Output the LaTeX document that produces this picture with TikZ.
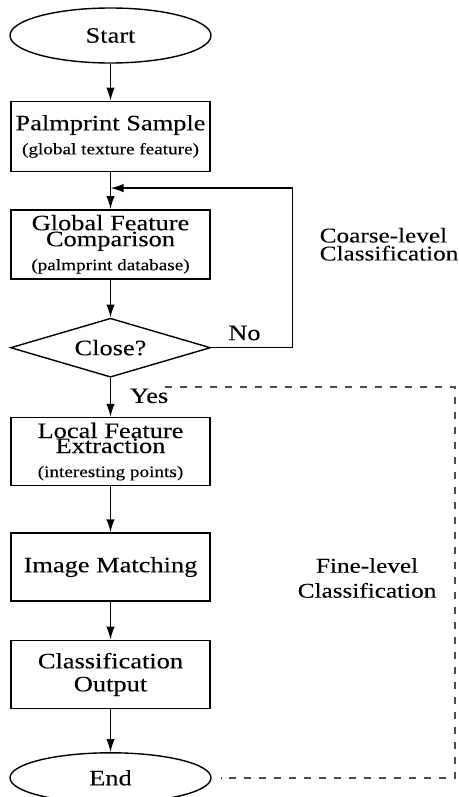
\documentclass[tikz,border=0pt]{standalone}
\usepackage{fontspec}
\setmainfont{Liberation Serif}[FakeStretch=1.2,FakeBold=0.12]
\usetikzlibrary{shapes.geometric,arrows.meta,positioning}

\newcommand{\subnote}[1]{{\fontsize{8}{9}\selectfont #1}}

\tikzset{
  terminal/.style={draw, ellipse, line width=0.7pt, inner sep=0pt,
    minimum width=100.5pt, minimum height=27.5pt, font=\fontsize{11}{13}\selectfont},
  process/.style={draw, rectangle, line width=0.7pt, inner sep=0pt,
    minimum width=99.5pt, minimum height=34pt, align=center, font=\fontsize{11}{13}\selectfont},
  decision/.style={draw, diamond, shape aspect=3.4, line width=0.7pt, inner sep=0pt,
    minimum width=100pt, minimum height=29.5pt, font=\fontsize{11}{13}\selectfont},
  flow/.style={-{Latex[length=6.5pt,width=4.2pt]}, line width=0.7pt},
  levelline/.style={dash pattern=on 3.5pt off 4pt, black!70, line width=0.8pt},
  sidelabel/.style={font=\fontsize{10.5}{12.5}\selectfont}
}

\begin{document}
\begin{tikzpicture}[font=\fontsize{11}{13}\selectfont]
  \useasboundingbox (0,0) rectangle (229.5pt,-398.5pt);

  \node [terminal] (start) at (55.25pt,-17.75pt) {Start};
  \node [process, minimum height=35pt] (palm) [below=18.5pt of start]
    {Palmprint Sample\\[-1pt]\subnote{(global texture feature)}};
  \node [process, minimum height=34.5pt] (global) [below=18.5pt of palm]
    {Global Feature\\[-5pt]Comparison\\[-1pt]\subnote{(palmprint database)}};
  \node [decision] (close) [below=19pt of global] {Close?};
  \node [process] (local) [below=19.5pt of close]
    {Local Feature\\[-5.5pt]Extraction\\[-1pt]\subnote{(interesting points)}};
  \node [process] (match) [below=23pt of local] {Image Matching};
  \node [process] (output) [below=19pt of match] {Classification\\[-1.5pt]Output};
  \node [terminal, minimum height=25pt] (end) [below=21.5pt of output] {End};

  \node [sidelabel, align=left, right=51pt of global] (coarse)
    {Coarse-level\\[-3.5pt]Classification};
  \node [sidelabel, align=center, right=40pt of match, yshift=-5.5pt] (fine)
    {Fine-level\\[0pt]Classification};

  \coordinate (join) at ([yshift=-8pt]palm.south);
  \coordinate (fine top) at ([shift={(27.25pt,-4.5pt)}]close.south);
  \coordinate (fine end) at ([xshift=4.5pt]end.east);

  \path[flow]
    (start) edge (palm)
    (palm) edge (global)
    (global) edge (close)
    (close) edge node (yes) [pos=0.46, right=6pt] {Yes} (local)
    (local) edge (match)
    (match) edge (output)
    (output) edge (end);

  \draw[flow] (close.east) -- node (no) [above, pos=0.41] {No} ++(40.5pt,0) |- (join);

  \draw[levelline] (fine top) -- ++(145pt,0) |- (fine end);
\end{tikzpicture}
\end{document}
